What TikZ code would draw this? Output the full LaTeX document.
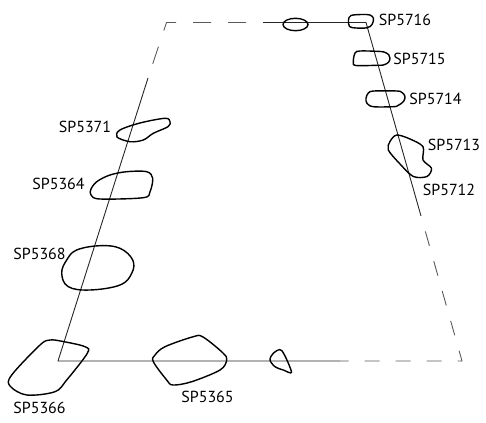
\documentclass[tikz,border=0pt]{standalone}
\usepackage{fontspec}
\setmainfont{PT Sans}
\begin{document}
\begin{tikzpicture}[x=1pt,y=-1pt,
  frame/.style={line width=0.9pt,black!85},
  dashframe/.style={line width=0.9pt,black!65},
  blob/.style={line width=1.4pt,black},
  lab/.style={inner sep=0pt,font=\fontsize{16}{18}\selectfont}]
\useasboundingbox (0,0) rectangle (486,422);
% frame corners
\coordinate (TL) at (166.5,22.5);
\coordinate (TR) at (366,22.5);
\coordinate (BR) at (462,361);
\coordinate (BL) at (58,361);
\coordinate (TS) at (263,22.5);
\coordinate (LS) at (148,78);
\coordinate (RS) at (421,216);
\coordinate (BS) at (340,361);
% solid parts
\draw[frame] (TS) -- (TR) -- (RS);
\draw[frame] (LS) -- (BL) -- (BS);
% dashed parts
\draw[dashframe,dash pattern=on 18pt off 17pt,dash phase=18pt] (TS) -- (TL) -- (LS);
\draw[dashframe,dash pattern=on 15pt off 16pt,dash phase=15pt] (RS) -- (BR) -- (BS);
% blobs
\draw[blob] (295.5,24.5) ellipse [x radius=12.5, y radius=6.2];
\draw[blob] plot[smooth cycle,tension=0.55] coordinates {(351,15.5) (362,14.5) (370,15) (373.5,18.5) (372,24.5) (367,27.8) (356,28) (349.5,26.5) (348.5,20)};
\draw[blob] plot[smooth cycle,tension=0.55] coordinates {(355,53) (360,51) (376.7,51.3) (384,52) (388.7,54.7) (390,58.3) (388.5,62.3) (383.5,65) (376.7,65.3) (356,65.5) (353.3,62)};
\draw[blob] plot[smooth cycle,tension=0.55] coordinates {(368.3,93) (374,91) (396.7,91) (402,92.5) (405,96.5) (403.5,101.5) (398,105.5) (393.3,106.7) (373.3,106.7) (367,103.3) (366,98.3)};
\draw[blob] plot[smooth cycle,tension=0.5] coordinates {(396.7,135) (410,139) (423,146.7) (423,160) (431.5,168.3) (427,176.5) (413.3,176.5) (400,164) (388.3,150) (390,141.5)};
\draw[blob] plot[smooth cycle,tension=0.55] coordinates {(120,130) (140,123) (165,118.3) (170,121.7) (168,126.7) (153.3,133.3) (143.3,140) (130,141.7) (117,137)};
\draw[blob] plot[smooth cycle,tension=0.55] coordinates {(97,181.5) (110,175) (126.7,171.7) (146.7,171.7) (152.7,178.3) (150,191.7) (143.3,197.7) (100,199) (91,195) (91,189)};
\draw[blob] plot[smooth cycle,tension=0.65] coordinates {(76.7,250) (100,245.7) (120,248.3) (132.7,260) (131.7,273.3) (120,285) (90,290) (68.3,286.7) (61.7,273.3) (66.7,260)};
\draw[blob] plot[smooth cycle,tension=0.55] coordinates {(50,340) (63,341.5) (85,346.7) (87.3,353.3) (66.7,380) (55,391.7) (26.7,395) (10,386) (11.7,375) (40,345)};
\draw[blob] plot[smooth cycle,tension=0.55] coordinates {(193.3,336.7) (203,337) (223,353) (226.7,360) (220,370) (191.7,381.7) (173,385) (166.7,380) (153.3,361.7) (155,355) (165,346.7)};
\draw[blob] plot[smooth cycle,tension=0.5] coordinates {(270,360) (273.3,353.3) (281.7,350.5) (291.5,372) (283.3,370) (275,366.7)};
% labels
\node[lab] (l5716) at (405,19.5) {SP5716};
\node[lab] (l5715) at (419.5,58.5) {SP5715};
\node[lab] (l5714) at (435.5,98.5) {SP5714};
\node[lab] (l5713) at (454,145) {SP5713};
\node[lab] (l5712) at (449,190) {SP5712};
\node[lab] (l5371) at (85,127) {SP5371};
\node[lab] (l5364) at (58.5,184) {SP5364};
\node[lab] (l5368) at (39.5,254) {SP5368};
\node[lab] (l5366) at (39.5,408) {SP5366};
\node[lab] (l5365) at (207.5,397) {SP5365};
\end{tikzpicture}
\end{document}
